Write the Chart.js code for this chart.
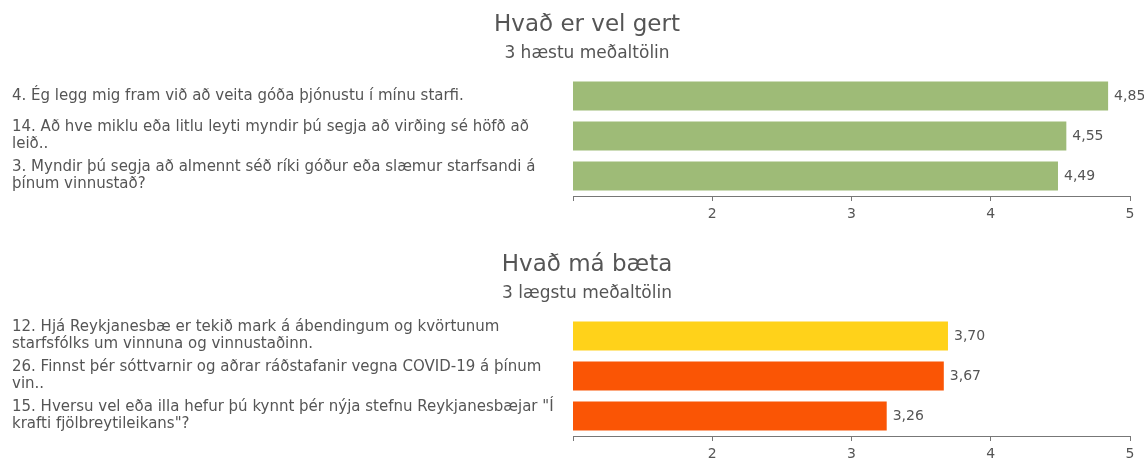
<!DOCTYPE html>
<html>
<head>
<meta charset="utf-8">
<script src="https://cdn.jsdelivr.net/npm/chart.js@4"></script>
<style>
    html, body { margin: 0; padding: 0; background: #fff; overflow: hidden; }
    .box { position: absolute; left: 0; width: 1144px; height: 230px; }
</style>
</head>
<body>
<div class="box" style="top:0"><canvas id="chartBest"></canvas></div>
<div class="box" style="top:240px"><canvas id="chartWorst"></canvas></div>
<script>
// efri mynd - 3 hæstu
var titleBest = 'Hvað er vel gert';
var subBest = '3 hæstu meðaltölin';
var labelsBest = [
    ['4. Ég legg mig fram við að veita góða þjónustu í mínu starfi.'],
    ['14. Að hve miklu eða litlu leyti myndir þú segja að virðing sé höfð að', 'leið..'],
    ['3. Myndir þú segja að almennt séð ríki góður eða slæmur starfsandi á', 'þínum vinnustað?']
];
var valuesBest = [4.85, 4.55, 4.49];
var colorsBest = ['#9ebb77', '#9ebb77', '#9ebb77'];

// neðri mynd - 3 lægstu
var titleWorst = 'Hvað má bæta';
var subWorst = '3 lægstu meðaltölin';
var labelsWorst = [
    ['12. Hjá Reykjanesbæ er tekið mark á ábendingum og kvörtunum', 'starfsfólks um vinnuna og vinnustaðinn.'],
    ['26. Finnst þér sóttvarnir og aðrar ráðstafanir vegna COVID-19 á þínum', 'vin..'],
    ['15. Hversu vel eða illa hefur þú kynnt þér nýja stefnu Reykjanesbæjar "Í', 'krafti fjölbreytileikans"?']
];
var valuesWorst = [3.70, 3.67, 3.26];
var colorsWorst = ['#ffd21a', '#fa5505', '#fa5505'];

var xTicks = ['', '2', '3', '4', '5'];

var textColor = '#555';
var fontName = 'DejaVu Sans';

// skrifar gildin hægra megin við súlurnar
var valueLabels = {
    id: 'valueLabels',
    afterDatasetsDraw(chart) {
        var ctx = chart.ctx;
        var meta = chart.getDatasetMeta(0);
        ctx.save();
        ctx.font = '14px ' + fontName;
        ctx.fillStyle = textColor;
        ctx.textAlign = 'left';
        ctx.textBaseline = 'middle';
        meta.data.forEach((bar, i) => {
            var v = chart.data.datasets[0].data[i];
            ctx.fillText(v.toFixed(2).replace('.', ','), bar.x + 5, bar.y);
        });
        ctx.restore();
    }
};

// textinn vinstra megin byrjar við spássíuna, titillinn helst til hægri
var labelMargin = {
    id: 'labelMargin',
    afterLayout(chart) {
        chart.scales.y.left = 12;
    }
};

function makeChart(id, title, sub, labels, values, colors) {
    var ctx = document.getElementById(id).getContext('2d');
    return new Chart(ctx, {
        type: 'bar',
        data: {
            labels: labels,
            datasets: [{
                data: values,
                backgroundColor: colors,
                borderColor: 'rgba(255, 255, 255, 0.45)',
                borderWidth: 1,
                borderSkipped: false,
                barPercentage: 0.77,
                categoryPercentage: 1
            }]
        },
        plugins: [valueLabels, labelMargin],
        options: {
            indexAxis: 'y',
            responsive: true,
            maintainAspectRatio: false,
            animation: false,
            layout: { padding: { top: 11, left: 44, right: 14, bottom: 0 } },
            plugins: {
                legend: { display: false },
                tooltip: { enabled: false },
                title: {
                    display: true,
                    text: title,
                    color: textColor,
                    font: { family: fontName, size: 23, weight: 'normal', lineHeight: 1.2 },
                    padding: { top: 0, bottom: 5 }
                },
                subtitle: {
                    display: true,
                    text: sub,
                    color: textColor,
                    font: { family: fontName, size: 17, weight: 'normal', lineHeight: 1.2 },
                    padding: { top: 0, bottom: 12 }
                }
            },
            scales: {
                x: {
                    min: 1,
                    max: 5,
                    grid: { display: true, drawOnChartArea: false, drawTicks: true, tickLength: 5, color: '#777' },
                    border: { display: true, color: '#777', width: 1 },
                    ticks: {
                        stepSize: 1,
                        padding: 5,
                        color: textColor,
                        font: { family: fontName, size: 14 },
                        callback: (v) => xTicks[v - 1]
                    },
                    afterFit: (scale) => { scale.height = 34; }
                },
                y: {
                    grid: { display: false },
                    border: { display: false },
                    ticks: {
                        autoSkip: false,
                        crossAlign: 'far',
                        color: textColor,
                        font: { family: fontName, size: 15, lineHeight: 1.12 }
                    },
                    afterFit: (scale) => { scale.width = 529; }
                }
            }
        }
    });
}

makeChart('chartBest', titleBest, subBest, labelsBest, valuesBest, colorsBest);
makeChart('chartWorst', titleWorst, subWorst, labelsWorst, valuesWorst, colorsWorst);
</script>
</body>
</html>
